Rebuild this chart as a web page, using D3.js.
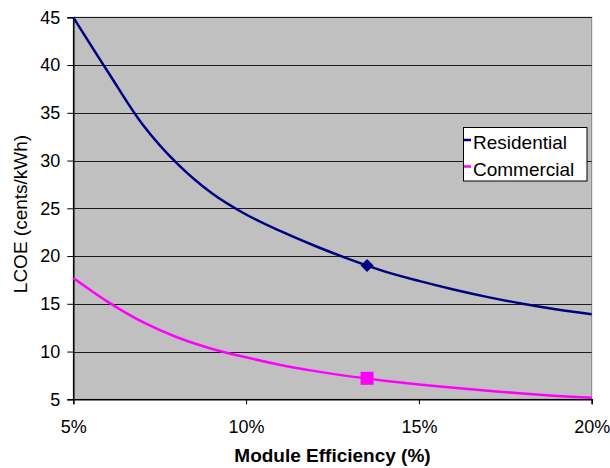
<!DOCTYPE html>
<html>
<head>
<meta charset="utf-8">
<script src="https://cdn.jsdelivr.net/npm/d3@7"></script>
<style>
  html, body { margin: 0; padding: 0; background: #fff; }
  svg { display: block; font-family: "Liberation Sans", Arial, sans-serif; }
</style>
</head>
<body>
<svg id="chart" width="610" height="468"></svg>
<script>
// ---- data ----
const efficiency = [5, 6, 7, 8, 9, 10, 11, 12, 13, 14, 15, 16, 17, 18, 19, 20];
const residential = [45.0, 39.3, 33.8, 29.7, 26.6, 24.35, 22.6, 21.05, 19.65, 18.4, 17.4, 16.5, 15.7, 15.0, 14.4, 13.9];
const commercial  = [17.7, 15.2, 13.1, 11.5, 10.3, 9.4, 8.6, 7.95, 7.4, 6.95, 6.55, 6.2, 5.9, 5.6, 5.35, 5.15];
const markerX = [13.5];
const residentialMarker = [19.0];
const commercialMarker = [7.2];
const xTicks = [5, 10, 15, 20];
const yTicks = [5, 10, 15, 20, 25, 30, 35, 40, 45];
const seriesNames = ["Residential", "Commercial"];
const seriesColors = ["#000080", "#FF00FF"];

// ---- layout ----
const svg = d3.select("#chart");
const L = 73.3, R = 591.7, T = 17.3, B = 399.3;

const x = d3.scaleLinear().domain([5, 20]).range([L, R]);
const y = d3.scaleLinear().domain([5, 45]).range([B, T]);

// plot background
svg.append("rect")
  .attr("x", L).attr("y", T).attr("width", R - L).attr("height", B - T)
  .attr("fill", "#C0C0C0").attr("stroke", "#808080").attr("stroke-width", 1);

// gridlines
svg.append("g").selectAll("line").data(yTicks.filter(d => d > 5)).join("line")
  .attr("x1", L).attr("x2", R)
  .attr("y1", d => Math.round(y(d)) + 0.5).attr("y2", d => Math.round(y(d)) + 0.5)
  .attr("stroke", "#1a1a1a").attr("stroke-width", 1);

// y axis
const yAxis = svg.append("g").attr("transform", `translate(${L},0)`)
  .call(d3.axisLeft(y).tickValues(yTicks).tickSize(6).tickPadding(7).tickFormat(d3.format("d")));
yAxis.select(".domain").attr("stroke", "#000").attr("stroke-width", 1.5);
yAxis.selectAll(".tick line").attr("stroke", "#000");
yAxis.selectAll("text").attr("font-size", 18).attr("fill", "#000")
  .attr("font-family", "Liberation Sans, Arial, sans-serif");

// x axis
const xAxis = svg.append("g").attr("transform", `translate(0,${B})`)
  .call(d3.axisBottom(x).tickValues(xTicks).tickSize(5).tickPadding(16).tickFormat(d => d + "%"));
xAxis.select(".domain").attr("stroke", "#000").attr("stroke-width", 1.5);
xAxis.selectAll(".tick line").attr("stroke", "#000");
xAxis.selectAll("text").attr("font-size", 18).attr("fill", "#000")
  .attr("font-family", "Liberation Sans, Arial, sans-serif");

// lines
const allSeries = [residential, commercial];
const line = d3.line().x((d, i) => x(efficiency[i])).y(d => y(d)).curve(d3.curveCatmullRom.alpha(0.5));
allSeries.forEach((s, k) => {
  svg.append("path").datum(s)
    .attr("d", line)
    .attr("fill", "none")
    .attr("stroke", seriesColors[k])
    .attr("stroke-width", 2.5);
});

// markers
const dr = 6.5;
svg.append("g").selectAll("path").data(residentialMarker).join("path")
  .attr("transform", (d, i) => `translate(${x(markerX[i])},${y(d)})`)
  .attr("d", `M0,${-dr}L${dr},0L0,${dr}L${-dr},0Z`)
  .attr("fill", seriesColors[0]);
svg.append("g").selectAll("rect").data(commercialMarker).join("rect")
  .attr("x", (d, i) => x(markerX[i]) - 6.5).attr("y", d => y(d) - 6.5)
  .attr("width", 13).attr("height", 13)
  .attr("fill", seriesColors[1]);

// legend
const lg = svg.append("g");
lg.append("rect").attr("x", 463.5).attr("y", 127.5).attr("width", 123.5).attr("height", 53.5)
  .attr("fill", "#fff").attr("stroke", "#000").attr("stroke-width", 1);
const legY = [140, 166.5];
const legBase = [148.5, 175.5];
seriesNames.forEach((n, k) => {
  lg.append("line").attr("x1", 464).attr("x2", 471).attr("y1", legY[k]).attr("y2", legY[k])
    .attr("stroke", seriesColors[k]).attr("stroke-width", 2.5);
  lg.append("text").attr("x", 473).attr("y", legBase[k]).attr("font-size", 19).attr("fill", "#000").text(n);
});

// axis titles
svg.append("text").attr("x", (L + R) / 2).attr("y", 462).attr("text-anchor", "middle")
  .attr("font-size", 19).attr("font-weight", "bold").attr("fill", "#000").text("Module Efficiency (%)");
svg.append("text").attr("transform", "translate(26.5,214) rotate(-90)").attr("text-anchor", "middle")
  .attr("font-size", 19).attr("fill", "#000").text("LCOE (cents/kWh)");
</script>
</body>
</html>
